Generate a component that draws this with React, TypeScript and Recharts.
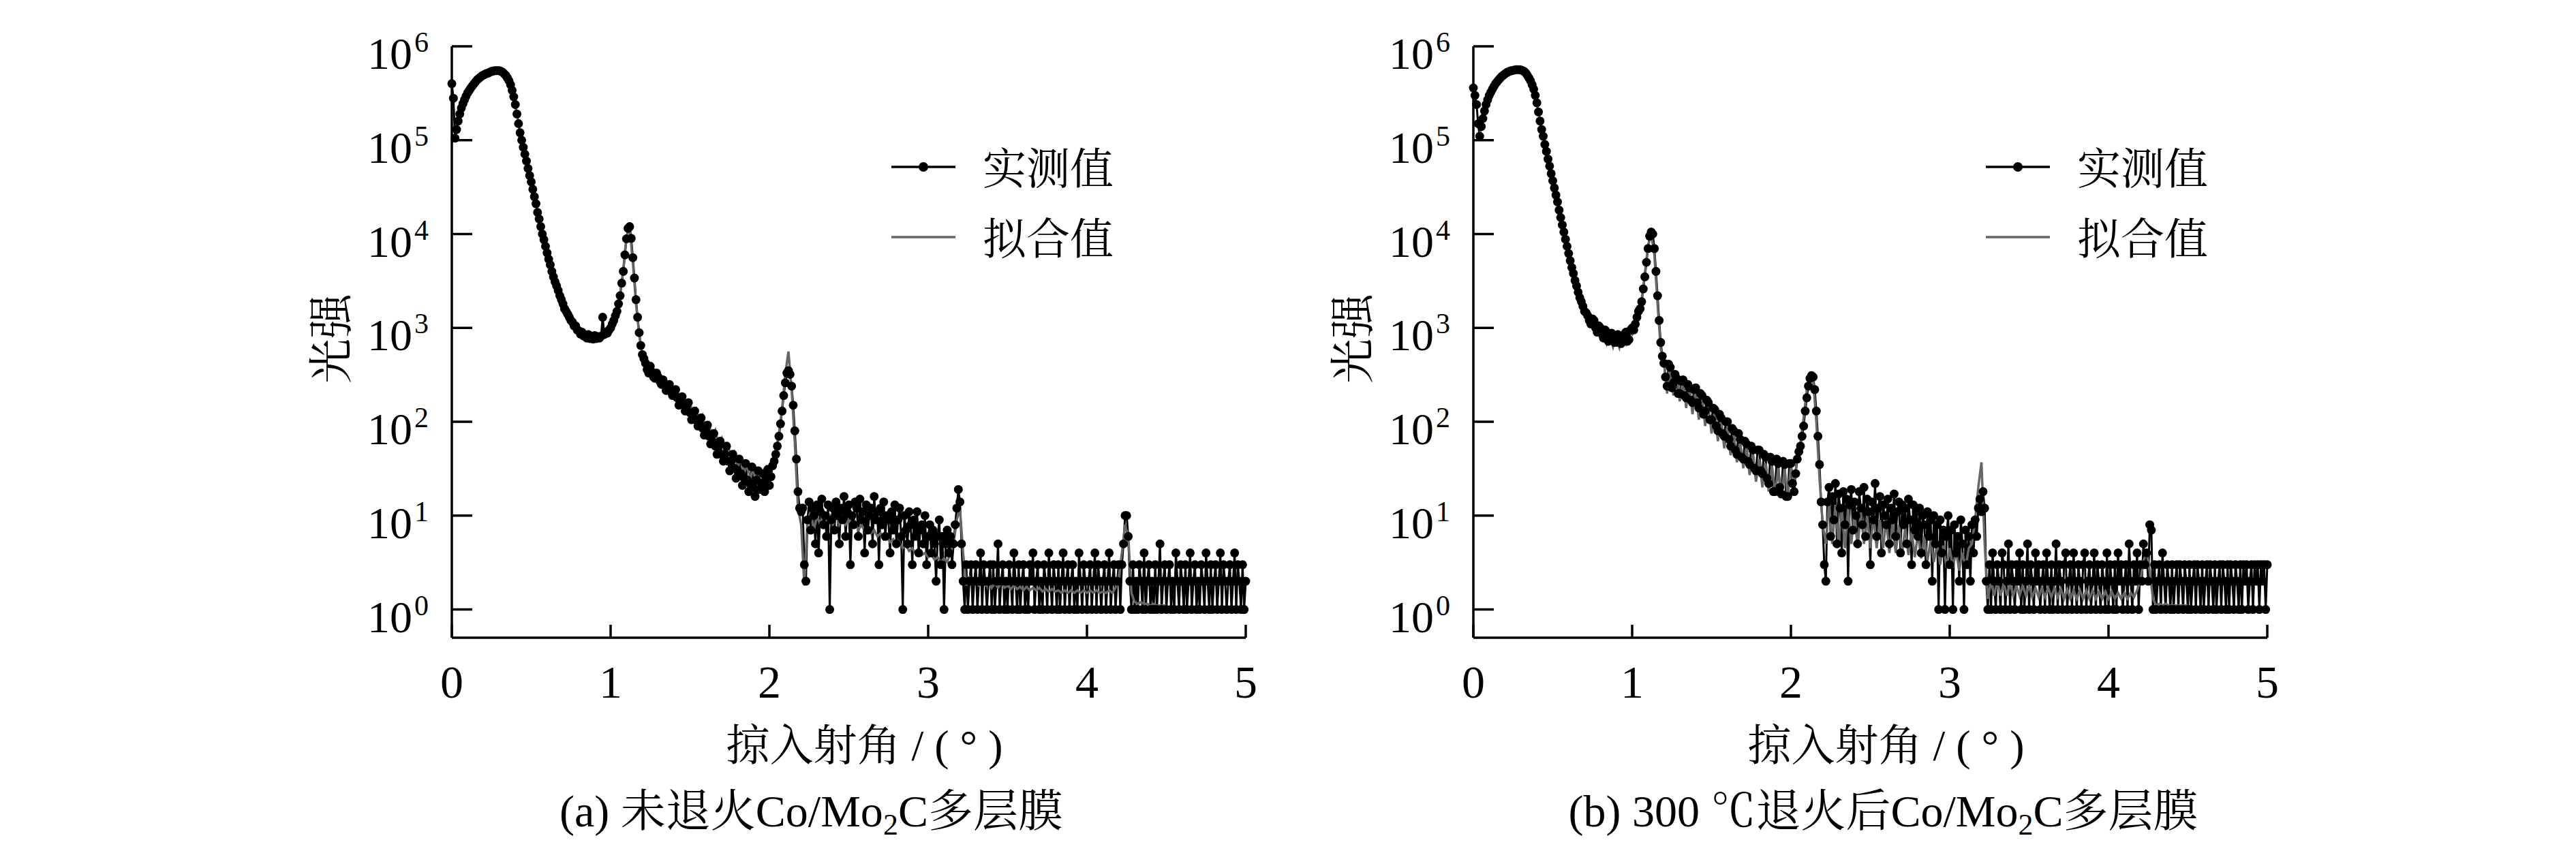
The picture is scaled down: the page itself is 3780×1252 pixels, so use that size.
import { LineChart, Line, XAxis, YAxis, Legend } from "recharts"

// measured scans are sampled every 0.01 deg, the fitted curves every 0.02 deg
const MEASURED_STEP = 0.01
const FITTED_STEP = 0.02
const xTicks = [0, 1, 2, 3, 4, 5]
const yTicks = [1, 10, 100, 1000, 10000, 100000, 1000000]
const seriesNames = ["实测值", "拟合值"]
const xTitle = "掠入射角 / ( ° )"
const yTitle = "光强"
const captionA = ["(a) 未退火Co/Mo", "2", "C多层膜"]
const captionB = ["(b) 300 ℃退火后Co/Mo", "2", "C多层膜"]

// (a) as-deposited, measured 0.00 - 2.20 deg
const measuredA = [
  4.0e5, 2.8e5, 1.05e5, 1.3e5, 1.6e5, 1.9e5, 2.2e5, 2.45e5, 2.7e5, 2.95e5,
  3.2e5, 3.4e5, 3.6e5, 3.8e5, 4.0e5, 4.2e5, 4.4e5, 4.55e5, 4.7e5, 4.85e5,
  4.95e5, 5.05e5, 5.15e5, 5.2e5, 5.3e5, 5.4e5, 5.45e5, 5.5e5, 5.5e5, 5.5e5,
  5.5e5, 5.4e5, 5.3e5, 5.1e5, 4.9e5, 4.6e5, 4.3e5, 3.9e5, 3.4e5, 2.9e5,
  2.4e5, 1.9e5, 1.5e5, 1.2e5, 1.0e5, 8.4e4, 7.1e4, 6.0e4, 5.0e4, 4.2e4,
  3.6e4, 3.0e4, 2.5e4, 2.1e4, 1.7e4, 1.45e4, 1.2e4, 1.0e4, 8.7e3, 7.4e3,
  6.3e3, 5.4e3, 4.7e3, 4.0e3, 3.5e3, 3.1e3, 2.8e3, 2.5e3, 2.2e3, 2.0e3,
  1.8e3, 1.6e3, 1.5e3, 1.4e3, 1.3e3, 1.2e3, 1.15e3, 1.05e3, 1.05e3, 950,
  930, 860, 900, 820, 840, 780, 850, 770, 820, 760,
  830, 770, 800, 780, 820, 1.3e3, 850, 900, 880, 950,
  1.0e3, 1.1e3, 1.2e3, 1.35e3, 1.5e3, 1.8e3, 2.2e3, 3.0e3, 4.0e3, 6.0e3,
  8.9e3, 1.15e4, 1.2e4, 9.0e3, 5.6e3, 3.4e3, 2.0e3, 1.3e3, 890, 650,
  520, 470, 420, 360, 330, 390, 340, 300, 290, 330,
  300, 270, 250, 280, 250, 215, 230, 250, 210, 190,
  200, 220, 180, 150, 160, 185, 150, 130, 150, 160,
  125, 105, 110, 130, 105, 90, 95, 110, 85, 72,
  80, 92, 70, 58, 62, 75, 55, 45, 55, 62,
  45, 38, 45, 55, 38, 30, 38, 45, 32, 25,
  30, 40, 28, 21, 25, 36, 24, 18, 22, 33,
  20, 16, 24, 30, 19, 22, 28, 18, 25, 31,
  21, 26, 34, 38, 45, 55, 70, 95, 130, 190,
  260, 330, 350, 320, 240, 150, 80, 40, 18, 12,
  11,
]

// (a) measured counts 2.21 - 5.00 deg
const countsA = [
  12, 3, 2, 9, 14, 7, 12, 10, 5, 13,
  4, 11, 15, 8, 10, 6, 13, 1, 9, 12,
  7, 14, 10, 5, 12, 9, 16, 6, 11, 13,
  3, 10, 8, 14, 12, 6, 15, 9, 11, 4,
  13, 7, 10, 12, 5, 16, 9, 11, 3, 12,
  8, 14, 6, 10, 9, 4, 11, 7, 13, 5,
  9, 12, 6, 1, 10, 7, 5, 11, 8, 3,
  9, 6, 11, 4, 7, 8, 5, 10, 3, 6,
  8, 4, 7, 5, 2, 6, 9, 3, 6, 1,
  5, 7, 4, 6, 3, 5, 8, 12, 19, 14,
  5, 2, 1, 3, 1, 2, 3, 1, 2, 3,
  1, 2, 4, 1, 3, 2, 1, 2, 3, 1,
  3, 1, 2, 5, 1, 2, 3, 1, 2, 1,
  3, 2, 1, 4, 2, 1, 3, 1, 2, 3,
  1, 2, 1, 3, 2, 4, 1, 2, 3, 1,
  2, 1, 3, 2, 1, 4, 2, 1, 3, 2,
  1, 3, 1, 2, 4, 1, 2, 3, 1, 2,
  3, 1, 2, 1, 4, 2, 1, 3, 2, 1,
  2, 3, 1, 2, 4, 1, 3, 2, 1, 2,
  3, 1, 2, 4, 1, 2, 3, 1, 2, 3,
  1, 3, 5, 10, 10, 6, 2, 1, 3, 1,
  2, 1, 3, 2, 1, 4, 1, 2, 3, 1,
  2, 1, 3, 1, 2, 5, 1, 2, 3, 1,
  2, 3, 1, 2, 1, 4, 2, 1, 3, 2,
  1, 3, 1, 2, 4, 1, 2, 3, 1, 2,
  1, 3, 2, 1, 4, 2, 1, 3, 1, 2,
  3, 1, 2, 4, 1, 3, 2, 1, 2, 3,
  1, 2, 4, 1, 3, 2, 1, 3, 1, 2,
]

// (a) fitted curve, 0 - 4.50 deg
const fittedA = [
  null, 1.0e5, 1.6e5, 2.2e5, 2.7e5, 3.2e5, 3.6e5, 4.0e5, 4.4e5, 4.7e5,
  4.95e5, 5.15e5, 5.3e5, 5.4e5, 5.45e5, 5.45e5, 5.25e5, 4.85e5, 4.25e5, 3.35e5,
  2.35e5, 1.5e5, 1.0e5, 7.0e4, 5.0e4, 3.6e4, 2.5e4, 1.7e4, 1.2e4, 8.6e3,
  6.3e3, 4.7e3, 3.6e3, 2.8e3, 2.2e3, 1.75e3, 1.5e3, 1.25e3, 1.15e3, 960,
  960, 820, 880, 780, 840, 760, 870, 800, 930, 880,
  1.05e3, 1.15e3, 1.5e3, 2.3e3, 4.2e3, 9.5e3, 1.15e4, 5.0e3, 1.8e3, 850,
  520, 420, 340, 370, 290, 320, 240, 280, 215, 245,
  180, 215, 160, 185, 135, 160, 115, 135, 95, 115,
  80, 95, 65, 80, 55, 66, 46, 56, 40, 47,
  33, 40, 28, 35, 25, 32, 23, 30, 24, 32,
  25, 36, 48, 75, 140, 320, 560, 220, 60, 12,
  8, 1.8, 9, 11, 7, 10, 8, 11, 9, 10,
  8, 10, 8, 9.5, 8, 9, 7.5, 8.5, 7, 8,
  6.8, 7.5, 6.5, 7, 6, 6.5, 5.6, 6, 5.2, 5.6,
  4.8, 5.2, 4.5, 4.8, 4.2, 4.5, 4, 4.2, 3.8, 4,
  3.6, 3.8, 3.4, 3.6, 3.2, 3.5, 3.2, 4, 5, 9,
  12, 4, 1.8, 2.2, 1.9, 2.1, 1.8, 2, 1.8, 2,
  1.7, 1.9, 1.7, 1.9, 1.7, 1.8, 1.65, 1.8, 1.65, 1.75,
  1.6, 1.75, 1.6, 1.7, 1.6, 1.7, 1.55, 1.65, 1.55, 1.65,
  1.55, 1.6, 1.5, 1.6, 1.5, 1.6, 1.5, 1.6, 1.5, 1.6,
  1.5, 1.6, 1.5, 1.6, 1.5, 1.55, 1.5, 1.6, 1.5, 1.7,
  2.2, 4, 8, 6, 1.5, 1.2, 1.15, 1.2, 1.15, 1.15,
  1.1, 1.15, 1.1, 1.1, 1.1, 1.1,
]

// (b) annealed at 300 C, measured 0.00 - 2.20 deg
const measuredB = [
  3.6e5, 3.0e5, 2.4e5, 1.5e5, 1.1e5, 1.4e5, 1.7e5, 2.05e5, 2.4e5, 2.7e5,
  3.0e5, 3.25e5, 3.5e5, 3.75e5, 4.0e5, 4.2e5, 4.4e5, 4.6e5, 4.8e5, 4.95e5,
  5.1e5, 5.25e5, 5.35e5, 5.45e5, 5.5e5, 5.55e5, 5.6e5, 5.65e5, 5.65e5, 5.65e5,
  5.6e5, 5.5e5, 5.4e5, 5.2e5, 4.9e5, 4.6e5, 4.3e5, 3.9e5, 3.5e5, 3.0e5,
  2.5e5, 2.0e5, 1.6e5, 1.3e5, 1.1e5, 9.0e4, 7.6e4, 6.3e4, 5.3e4, 4.4e4,
  3.7e4, 3.1e4, 2.6e4, 2.2e4, 1.8e4, 1.5e4, 1.25e4, 1.05e4, 8.8e3, 7.4e3,
  6.2e3, 5.2e3, 4.4e3, 3.8e3, 3.2e3, 2.8e3, 2.4e3, 2.1e3, 1.9e3, 1.7e3,
  1.5e3, 1.45e3, 1.35e3, 1.2e3, 1.1e3, 1.25e3, 1.2e3, 1.0e3, 900, 1.05e3,
  1.0e3, 860, 780, 950, 900, 720, 760, 880, 820, 700,
  700, 850, 800, 680, 720, 850, 900, 720, 750, 950,
  1.0e3, 950, 1.1e3, 1.3e3, 1.5e3, 1.6e3, 1.9e3, 2.6e3, 3.5e3, 5.0e3,
  7.0e3, 9.5e3, 1.05e4, 1.0e4, 7.0e3, 4.0e3, 2.2e3, 1.2e3, 700, 500,
  420, 300, 240, 410, 380, 230, 260, 320, 290, 200,
  200, 270, 280, 190, 180, 250, 230, 170, 160, 220,
  230, 160, 140, 200, 190, 120, 130, 170, 160, 105,
  105, 140, 135, 90, 80, 120, 110, 75, 70, 100,
  100, 65, 55, 85, 80, 50, 45, 75, 65, 42,
  40, 62, 58, 38, 35, 55, 50, 32, 30, 50,
  50, 30, 28, 45, 42, 25, 22, 42, 38, 18,
  18, 40, 36, 20, 17, 38, 35, 16, 16, 36,
  36, 22, 18, 28, 40, 48, 55, 70, 90, 130,
  180, 240, 290, 310, 300, 220, 130, 70, 35, 14,
  8,
]

// (b) measured counts 2.21 - 5.00 deg
const countsB = [
  3, 2, 14, 20, 6, 16, 9, 22, 5, 17,
  12, 4, 18, 8, 15, 2, 13, 19, 7, 14,
  10, 5, 18, 12, 8, 20, 6, 15, 11, 3,
  14, 9, 22, 6, 12, 16, 4, 13, 10, 8,
  15, 5, 12, 9, 17, 6, 11, 14, 4, 13,
  8, 12, 5, 15, 9, 3, 13, 7, 11, 6,
  12, 4, 10, 8, 3, 11, 6, 9, 2, 10,
  5, 8, 1, 9, 4, 7, 1, 6, 10, 3,
  7, 1, 8, 4, 6, 2, 9, 5, 1, 7,
  3, 6, 2, 8, 4, 9, 6, 12, 15, 11,
  18, 12, 2, 1, 3, 1, 4, 2, 1, 3,
  2, 1, 4, 3, 1, 2, 5, 1, 3, 2,
  1, 3, 2, 4, 1, 3, 1, 2, 5, 1,
  3, 2, 1, 4, 2, 3, 1, 2, 3, 1,
  4, 2, 1, 3, 1, 2, 5, 1, 3, 2,
  1, 3, 4, 1, 2, 3, 1, 4, 2, 1,
  3, 2, 1, 3, 4, 1, 2, 3, 1, 2,
  4, 1, 3, 2, 1, 3, 2, 1, 4, 1,
  3, 2, 1, 3, 1, 4, 2, 3, 1, 2,
  3, 1, 5, 2, 1, 3, 2, 4, 1, 3,
  2, 5, 3, 4, 2, 8, 7, 1, 3, 1,
  2, 3, 1, 4, 2, 1, 3, 2, 1, 3,
  1, 2, 3, 1, 3, 2, 1, 3, 2, 1,
  3, 1, 2, 3, 1, 3, 2, 1, 3, 1,
  2, 3, 1, 3, 2, 1, 3, 1, 2, 3,
  1, 3, 2, 1, 3, 1, 3, 2, 1, 3,
  2, 1, 3, 1, 3, 2, 3, 1, 2, 3,
  1, 3, 2, 3, 1, 3, 2, 3, 1, 3,
]

// (b) fitted curve, 0 - 4.50 deg
const fittedB = [
  null, null, 1.1e5, 1.7e5, 2.4e5, 3.0e5, 3.5e5, 4.0e5, 4.4e5, 4.75e5,
  5.05e5, 5.3e5, 5.45e5, 5.55e5, 5.6e5, 5.55e5, 5.35e5, 4.85e5, 4.25e5, 3.45e5,
  2.45e5, 1.6e5, 1.1e5, 7.5e4, 5.2e4, 3.7e4, 2.6e4, 1.8e4, 1.25e4, 8.7e3,
  6.1e3, 4.4e3, 3.2e3, 2.5e3, 1.9e3, 1.6e3, 1.25e3, 1.2e3, 950, 1.0e3,
  780, 900, 680, 850, 630, 820, 620, 830, 680, 900,
  850, 1.15e3, 1.4e3, 2.0e3, 3.8e3, 7.5e3, 1.0e4, 6.0e3, 1.8e3, 600,
  450, 200, 420, 190, 350, 165, 300, 140, 260, 120,
  220, 105, 185, 90, 155, 75, 130, 62, 110, 52,
  90, 44, 75, 37, 62, 32, 52, 27, 45, 23,
  40, 20, 36, 18, 34, 17, 32, 16, 32, 16,
  34, 20, 45, 60, 110, 220, 320, 280, 100, 25,
  8, 5, 14, 5, 13, 5, 12, 4.5, 12, 5,
  11, 4.5, 11, 5, 10, 4.5, 10, 4.5, 9, 4.5,
  9, 4, 8.5, 4, 8, 4, 7.5, 3.8, 7, 3.6,
  6.5, 3.5, 6, 3.3, 5.5, 3.2, 5, 3, 4.8, 2.8,
  4.5, 2.8, 4.2, 2.6, 4, 2.8, 4.5, 5, 9, 20,
  37, 5, 1.3, 2, 1.4, 2, 1.4, 1.9, 1.4, 1.9,
  1.4, 1.8, 1.4, 1.8, 1.4, 1.8, 1.35, 1.7, 1.35, 1.7,
  1.35, 1.7, 1.35, 1.7, 1.35, 1.65, 1.3, 1.65, 1.3, 1.6,
  1.3, 1.6, 1.3, 1.6, 1.3, 1.6, 1.3, 1.55, 1.3, 1.55,
  1.3, 1.55, 1.3, 1.5, 1.3, 1.5, 1.3, 1.5, 1.35, 1.6,
  2, 3.2, 4.3, 2.5, 1.3, 1.1, 1.15, 1.1, 1.15, 1.1,
  1.1, 1.1, 1.1, 1.1, 1.1, 1.1,
]

const FONT = "'Liberation Serif', 'Noto Serif CJK SC', 'Noto Sans CJK SC', serif"
const PANEL_W = 1890
const PANEL_H = 1252
const MARGIN = { top: 68, right: 62, bottom: 216, left: 463 }
const Y_AXIS_W = 200
const X_AXIS_H = 100
const PLOT_LEFT = MARGIN.left + Y_AXIS_W
const PLOT_RIGHT = PANEL_W - MARGIN.right
const PLOT_BOTTOM = PANEL_H - MARGIN.bottom - X_AXIS_H
const PLOT_MID = (PLOT_LEFT + PLOT_RIGHT) / 2
const AXIS = { stroke: "#000", strokeWidth: 3.5 }

const toRows = (step: number, values: (number | null)[]) =>
  values.map((v, i) => ({ angle: Math.round(i * step * 1000) / 1000, value: v }))

function YTick({ y, payload }: any) {
  const exp = Math.round(Math.log10(payload.value))
  return (
    <g>
      <line x1={PLOT_LEFT} x2={PLOT_LEFT + 30} y1={y} y2={y} stroke="#000" strokeWidth={3.5} />
      <text x={PLOT_LEFT - 34} y={y + 33} textAnchor="end" fontFamily={FONT} fontSize={66} fill="#000">
        10
        <tspan dx={3} dy={-25} fontSize={42}>
          {exp}
        </tspan>
      </text>
    </g>
  )
}

function XTick({ x, payload }: any) {
  return (
    <g>
      <line x1={x} x2={x} y1={PLOT_BOTTOM} y2={PLOT_BOTTOM - 19} stroke="#000" strokeWidth={3.5} />
      <text x={x} y={PLOT_BOTTOM + 88} textAnchor="middle" fontFamily={FONT} fontSize={68} fill="#000">
        {payload.value}
      </text>
    </g>
  )
}

function SeriesKey() {
  return (
    <svg width={420} height={230} style={{ display: "block", overflow: "visible" }}>
      <line x1={10} x2={104} y1={65} y2={65} stroke="#000" strokeWidth={3.5} />
      <circle cx={57} cy={65} r={7} fill="#000" />
      <text x={144} y={90} fontFamily={FONT} fontSize={64} fill="#000">
        {seriesNames[0]}
      </text>
      <line x1={10} x2={104} y1={168} y2={168} stroke="#666" strokeWidth={3.5} />
      <text x={144} y={193} fontFamily={FONT} fontSize={64} fill="#000">
        {seriesNames[1]}
      </text>
    </svg>
  )
}

interface PanelProps {
  measured: number[]
  counts: number[]
  fitted: (number | null)[]
  caption: string[]
  captionShift: number
  legendLeft: number
}

function Panel({ measured, counts, fitted, caption, captionShift, legendLeft }: PanelProps) {
  const measuredRows = toRows(MEASURED_STEP, [...measured, ...counts])
  const fittedRows = toRows(FITTED_STEP, fitted)

  const xLabel = () => (
    <g fontFamily={FONT} fill="#000">
      <text x={PLOT_MID + 23} y={PLOT_BOTTOM + 180} textAnchor="middle" fontSize={64}>
        {xTitle}
      </text>
      <text x={PLOT_MID + captionShift} y={PLOT_BOTTOM + 277} textAnchor="middle" fontSize={66}>
        {caption[0]}
        <tspan fontSize={44} dy={12}>
          {caption[1]}
        </tspan>
        <tspan dy={-12}>{caption[2]}</tspan>
      </text>
    </g>
  )

  const yLabel = () => (
    <text
      x={486}
      y={497}
      transform="rotate(-90, 486, 497)"
      textAnchor="middle"
      dominantBaseline="central"
      fontFamily={FONT}
      fontSize={66}
      fill="#000"
    >
      {yTitle}
    </text>
  )

  return (
    <LineChart width={PANEL_W} height={PANEL_H} margin={MARGIN}>
      <XAxis
        dataKey="angle"
        type="number"
        domain={[0, 5]}
        ticks={xTicks}
        interval={0}
        tick={XTick}
        tickLine={false}
        axisLine={AXIS}
        height={X_AXIS_H}
        label={xLabel}
      />
      <XAxis xAxisId="top" orientation="top" type="number" domain={[0, 5]} tick={false} tickLine={false} axisLine={AXIS} height={0} />
      <YAxis
        type="number"
        scale="log"
        domain={[0.5, 1e6]}
        allowDataOverflow
        ticks={yTicks}
        interval={0}
        tick={YTick}
        tickLine={false}
        axisLine={AXIS}
        width={Y_AXIS_W}
        label={yLabel}
      />
      <YAxis
        yAxisId="right"
        orientation="right"
        type="number"
        scale="log"
        domain={[0.5, 1e6]}
        allowDataOverflow
        tick={false}
        tickLine={false}
        axisLine={AXIS}
        width={0}
      />
      <Legend
        layout="vertical"
        align="center"
        verticalAlign="middle"
        content={SeriesKey}
        wrapperStyle={{ left: legendLeft, top: 180, width: 420, height: 230 }}
      />
      <Line
        data={measuredRows}
        dataKey="value"
        stroke="#000"
        strokeWidth={3}
        dot={{ r: 6.5, fill: "#000", stroke: "none" }}
        activeDot={false}
        isAnimationActive={false}
      />
      <Line
        data={fittedRows}
        dataKey="value"
        stroke="#666"
        strokeWidth={3.5}
        dot={false}
        activeDot={false}
        isAnimationActive={false}
      />
    </LineChart>
  )
}

export default function App() {
  return (
    <div style={{ position: "absolute", left: 0, top: 0, width: 3780, height: 1252, background: "#fff" }}>
      <div style={{ position: "absolute", left: 0, top: 0 }}>
        <Panel measured={measuredA} counts={countsA} fitted={fittedA} caption={captionA} captionShift={-55} legendLeft={1298} />
      </div>
      <div style={{ position: "absolute", left: 1499, top: 0 }}>
        <Panel measured={measuredB} counts={countsB} fitted={fittedB} caption={captionB} captionShift={19} legendLeft={1405} />
      </div>
    </div>
  )
}
